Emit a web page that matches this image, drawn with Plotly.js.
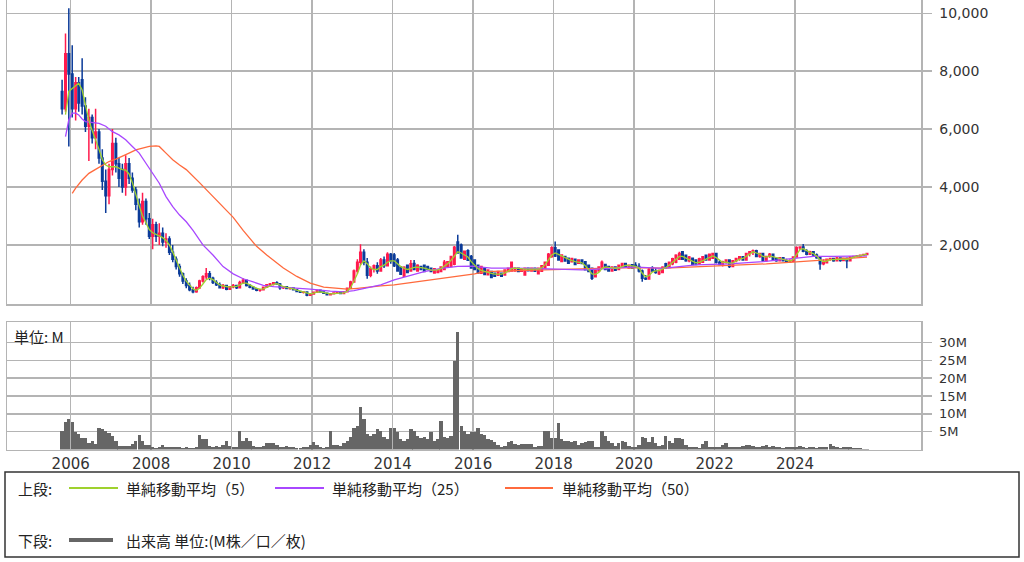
<!DOCTYPE html>
<html>
<head>
<meta charset="utf-8">
<script src="https://cdn.plot.ly/plotly-3.0.1.min.js"></script>
<style>html,body{margin:0;padding:0;background:#fff;}#chart{width:1024px;height:562px;}</style>
</head>
<body>
<div id="chart"></div>
<script>
// Monthly candles, Oct 2005 .. Oct 2025
const firstYear = 2005, firstMonth = 10;
const openP = [
  7300, 6700, 8600,
  7900, 6700, 7600, 7700, 6800, 6100, 6400, 5700, 5900, 5000, 4200, 3700,
  4600, 5500, 4800, 4600, 4000, 4800, 4300, 3900, 3400, 2800, 3500, 2900,
  2300, 2700, 2300, 2400, 2100, 2200, 1750, 1500, 1250, 1000, 750, 600,
  450, 380, 520, 750, 900, 1000, 850, 700, 620, 520, 600, 470,
  550, 600, 520, 700, 780, 600, 540, 480, 430, 450, 540, 620,
  650, 690, 650, 520, 550, 490, 510, 450, 390, 360, 370, 260,
  300, 360, 430, 370, 330, 280, 310, 340, 360, 320, 380, 500,
  720, 1100, 1400, 1750, 1400, 950, 1180, 1280, 1100, 1480, 1280, 1680,
  1650, 1480, 1240, 920, 1300, 1100, 1360, 1100, 1250, 1300, 1250, 1190,
  1030, 1050, 1080, 1150, 1250, 1250, 1330, 2100, 2000, 1500, 1800, 1600,
  1480, 1300, 1020, 1190, 970, 1080, 1020, 950, 1020, 960, 1080, 1100,
  1100, 1190, 1090, 960, 1190, 1100, 1190, 1000, 1090, 1200, 1300, 1600,
  1900, 1820, 1430, 1600, 1540, 1420, 1500, 1370, 1480, 1420, 1300, 1190,
  900, 1100, 1240, 1320, 1250, 1100, 1240, 1150, 1250, 1360, 1200, 1310,
  1300, 1250, 1100, 850, 820, 1200, 1100, 1000, 1050, 1350, 1220, 1350,
  1400, 1500, 1760, 1640, 1450, 1540, 1480, 1340, 1400, 1640, 1480, 1540,
  1700, 1400, 1320, 1420, 1480, 1250, 1450, 1530, 1590, 1480, 1700, 1760,
  1800, 1600, 1700, 1450, 1600, 1680, 1540, 1450, 1560, 1450, 1400, 1430,
  1580, 1900, 1930, 1780, 1680, 1760, 1650, 1560, 1350, 1380, 1500, 1530,
  1450, 1550, 1460, 1540, 1450, 1580, 1600, 1620, 1640, 1670
];
const highP = [
  7700, 9300, 10170,
  8900, 7800, 7800, 8450, 7100, 6700, 6500, 6700, 6000, 5300, 4600, 4800,
  6000, 5700, 5000, 4800, 5100, 5000, 4500, 4000, 3600, 3800, 3600, 3100,
  2900, 2800, 2750, 2600, 2400, 2300, 2000, 1600, 1350, 1050, 850, 700,
  550, 560, 800, 950, 1200, 1100, 900, 780, 700, 650, 620, 580,
  650, 620, 760, 850, 800, 650, 580, 520, 480, 560, 640, 680,
  720, 740, 680, 580, 570, 540, 530, 470, 420, 400, 380, 320,
  380, 460, 450, 390, 340, 330, 360, 380, 370, 400, 520, 760,
  1150, 1500, 2020, 1850, 1550, 1250, 1320, 1400, 1550, 1600, 1750, 1720,
  1720, 1550, 1260, 1260, 1320, 1480, 1480, 1330, 1270, 1320, 1260, 1200,
  1200, 1150, 1260, 1480, 1440, 1620, 1960, 2350, 2050, 1800, 1850, 1650,
  1500, 1320, 1260, 1200, 1140, 1100, 1040, 1100, 1040, 1150, 1200, 1430,
  1230, 1210, 1200, 1210, 1200, 1210, 1200, 1200, 1300, 1420, 1720, 1950,
  2120, 1850, 1680, 1620, 1560, 1560, 1520, 1500, 1500, 1440, 1320, 1200,
  1150, 1260, 1460, 1330, 1260, 1260, 1260, 1320, 1380, 1380, 1320, 1330,
  1400, 1370, 1150, 960, 1200, 1260, 1200, 1150, 1260, 1380, 1420, 1560,
  1680, 1760, 1780, 1660, 1620, 1560, 1500, 1560, 1620, 1660, 1700, 1720,
  1720, 1480, 1450, 1500, 1490, 1480, 1560, 1620, 1600, 1720, 1780, 1840,
  1830, 1720, 1710, 1620, 1720, 1700, 1560, 1580, 1580, 1520, 1500, 1600,
  1950, 1950, 2030, 1850, 1800, 1790, 1700, 1600, 1500, 1530, 1560, 1560,
  1580, 1570, 1560, 1560, 1600, 1620, 1650, 1660, 1690, 1720
];
const lowP = [
  6500, 6600, 5400,
  6400, 6300, 6600, 6500, 5900, 4900, 5500, 5300, 4800, 3900, 3100, 3400,
  4400, 4500, 4000, 3800, 3700, 4100, 3800, 3200, 2600, 2700, 2700, 2200,
  1850, 2100, 2000, 1950, 1900, 1650, 1400, 1150, 900, 650, 500, 400,
  330, 350, 480, 700, 820, 780, 650, 580, 500, 480, 430, 440,
  500, 480, 500, 650, 560, 500, 450, 400, 380, 430, 520, 580,
  600, 620, 450, 480, 470, 450, 430, 360, 340, 320, 230, 240,
  290, 340, 350, 320, 260, 250, 290, 320, 300, 310, 370, 480,
  700, 1000, 1300, 1300, 830, 880, 1050, 1000, 1080, 1200, 1250, 1350,
  1240, 1070, 960, 900, 1020, 1080, 1120, 1080, 1130, 1060, 1130, 1060,
  1000, 1020, 1060, 1130, 1230, 1230, 1300, 1700, 1520, 1480, 1450, 1180,
  1130, 1000, 1000, 960, 950, 850, 900, 940, 900, 950, 1070, 1090,
  1080, 1060, 1070, 940, 1100, 1090, 1080, 980, 1080, 1190, 1290, 1560,
  1580, 1450, 1400, 1420, 1350, 1400, 1300, 1350, 1340, 1120, 1060, 790,
  880, 1070, 1200, 1130, 1070, 1080, 1100, 1140, 1240, 1240, 1180, 1190,
  1200, 1050, 730, 790, 800, 1060, 1000, 960, 1020, 1180, 1200, 1300,
  1370, 1480, 1480, 1420, 1400, 1300, 1300, 1330, 1390, 1450, 1470, 1520,
  1360, 1300, 1250, 1350, 1200, 1230, 1400, 1450, 1450, 1460, 1600, 1650,
  1580, 1560, 1420, 1420, 1560, 1450, 1420, 1440, 1430, 1380, 1380, 1420,
  1560, 1820, 1750, 1640, 1660, 1620, 1520, 1140, 1300, 1360, 1450, 1420,
  1430, 1420, 1440, 1190, 1440, 1550, 1580, 1600, 1620, 1650
];
const closeP = [
  6700, 8600, 7900,
  6700, 7600, 6900, 6800, 6100, 6400, 5700, 5900, 5000, 4200, 3700, 4600,
  5500, 4800, 4300, 4000, 4800, 4300, 3900, 3400, 2800, 3500, 2900, 2300,
  2700, 2300, 2400, 2100, 2200, 1750, 1500, 1250, 1000, 750, 600, 450,
  380, 520, 750, 900, 1000, 850, 700, 620, 520, 600, 470, 550,
  600, 520, 700, 780, 600, 540, 480, 430, 450, 540, 620, 650,
  690, 650, 520, 550, 490, 510, 450, 390, 360, 370, 260, 300,
  360, 430, 370, 330, 280, 310, 340, 360, 320, 380, 500, 720,
  1100, 1400, 1750, 1400, 950, 1180, 1280, 1100, 1480, 1280, 1680, 1450,
  1280, 1100, 990, 1230, 1050, 1350, 1150, 1300, 1150, 1080, 1150, 1080,
  1180, 1130, 1240, 1400, 1420, 1600, 1920, 1720, 1550, 1780, 1470, 1200,
  1150, 1030, 1250, 980, 1130, 870, 920, 1080, 920, 1130, 1190, 1400,
  1190, 1080, 1180, 1190, 1110, 1190, 1090, 1190, 1280, 1400, 1680, 1900,
  1620, 1480, 1650, 1440, 1370, 1530, 1320, 1480, 1360, 1140, 1080, 850,
  1120, 1240, 1400, 1150, 1100, 1240, 1120, 1300, 1360, 1260, 1300, 1200,
  1250, 1100, 850, 820, 1150, 1100, 1050, 1120, 1230, 1220, 1400, 1520,
  1640, 1700, 1500, 1450, 1580, 1320, 1320, 1520, 1590, 1480, 1680, 1700,
  1400, 1320, 1420, 1480, 1250, 1450, 1530, 1590, 1480, 1700, 1760, 1800,
  1600, 1700, 1450, 1600, 1680, 1480, 1450, 1560, 1450, 1400, 1430, 1580,
  1900, 1930, 1780, 1680, 1760, 1650, 1560, 1350, 1380, 1500, 1530, 1450,
  1550, 1460, 1540, 1450, 1580, 1600, 1620, 1640, 1670, 1700
];
// 5-period moving average
const ma5 = [
  null, 6500, 7300,
  7400, 7500, 7580, 7350, 6800, 6300, 5950, 5650, 5300, 4950, 4760, 4700,
  4700, 4700, 4650, 4600, 4580, 4450, 4150, 3700, 3350, 3000, 2750, 2530,
  2420, 2360, 2300, 2250, 2150, 2000, 1750, 1480, 1200, 950, 750, 600,
  480, 430, 500, 650, 800, 850, 800, 700, 620, 580, 550, 540,
  560, 570, 620, 680, 680, 620, 560, 500, 470, 480, 530, 590,
  640, 660, 600, 560, 530, 510, 480, 440, 400, 370, 330, 310,
  330, 370, 380, 360, 330, 310, 320, 330, 330, 340, 400, 520,
  750, 1000, 1300, 1450, 1350, 1200, 1150, 1150, 1250, 1300, 1400, 1450,
  1450, 1350, 1250, 1200, 1150, 1180, 1220, 1230, 1220, 1200, 1160, 1130,
  1130, 1140, 1180, 1260, 1350, 1470, 1620, 1760, 1720, 1660, 1580, 1420,
  1300, 1180, 1120, 1080, 1050, 1020, 990, 980, 990, 1030, 1090, 1180,
  1200, 1190, 1170, 1160, 1160, 1160, 1150, 1160, 1210, 1310, 1480, 1650,
  1720, 1680, 1620, 1560, 1500, 1460, 1420, 1410, 1380, 1280, 1150, 1000,
  980, 1050, 1180, 1240, 1220, 1200, 1190, 1210, 1260, 1290, 1290, 1280,
  1260, 1200, 1020, 900, 940, 1060, 1100, 1110, 1160, 1220, 1300, 1400,
  1500, 1600, 1600, 1540, 1500, 1430, 1380, 1400, 1460, 1490, 1550, 1620,
  1560, 1460, 1400, 1400, 1370, 1380, 1450, 1510, 1530, 1600, 1690, 1760,
  1720, 1680, 1600, 1580, 1620, 1590, 1540, 1520, 1500, 1460, 1440, 1490,
  1680, 1840, 1870, 1790, 1740, 1700, 1620, 1480, 1420, 1440, 1490, 1490,
  1500, 1500, 1510, 1490, 1530, 1580, 1610, 1630, 1650, 1680
];
// 25-period moving average (sampled points)
const ma25Dates = ['2005-11-15','2005-12-15','2006-01-15','2006-02-15','2006-03-15','2006-04-15','2006-05-15','2006-07-15','2006-09-15','2006-11-15','2007-01-15','2007-03-15','2007-05-15','2007-07-15','2007-09-15','2007-11-15','2008-01-15','2008-03-15','2008-05-15','2008-07-15','2008-09-15','2008-11-15','2009-01-15','2009-04-15','2009-07-15','2009-10-15','2010-01-15','2010-04-15','2010-07-15','2010-10-15','2011-01-15','2011-06-15','2011-12-15','2012-06-15','2012-10-15','2013-01-15','2013-05-15','2013-09-15','2014-01-15','2014-06-15','2014-10-15','2015-03-15','2015-08-15','2015-12-15','2016-06-15','2017-06-15','2018-03-15','2018-09-15','2019-06-15','2019-12-15','2020-09-15','2021-07-15','2022-05-15','2023-03-15','2024-01-15','2024-06-15','2024-12-15','2025-10-15'];
const ma25Vals = [5740,6320,6550,6550,6490,6350,6260,6220,6200,6100,5910,5800,5630,5400,5170,4820,4470,4130,3670,3320,3030,2800,2500,2000,1650,1250,1000,830,720,600,560,530,470,400,380,420,510,620,790,950,1080,1190,1260,1270,1200,1190,1150,1140,1190,1240,1190,1310,1345,1425,1540,1600,1600,1620];
// 50-period moving average (sampled points)
const ma50Dates = ['2006-01-15','2006-02-15','2006-04-15','2006-06-15','2006-08-15','2006-10-15','2006-12-15','2007-02-15','2007-04-15','2007-06-15','2007-08-15','2007-10-15','2007-12-15','2008-02-15','2008-03-15','2008-05-15','2008-07-15','2008-09-15','2008-11-15','2009-03-15','2009-08-15','2010-01-15','2010-04-15','2010-08-15','2010-11-15','2011-04-15','2011-08-15','2011-12-15','2012-04-15','2012-08-15','2012-11-15','2013-02-15','2013-05-15','2013-09-15','2014-01-15','2014-10-15','2015-08-15','2016-01-15','2016-04-15','2017-04-15','2018-01-15','2018-12-15','2019-10-15','2020-10-15','2021-08-15','2022-05-15','2023-04-15','2024-02-15','2024-12-15','2025-10-15'];
const ma50Vals = [3780,3960,4240,4470,4610,4760,4880,4960,5050,5170,5280,5340,5400,5420,5400,5170,4940,4760,4600,4150,3550,2950,2500,1950,1650,1200,910,680,540,490,470,500,540,585,620,760,910,1000,1080,1115,1140,1195,1215,1200,1250,1290,1345,1425,1505,1575];
// Monthly volume, millions
const volume = [
  5.3, 7.7, 8.6,
  7.7, 4.9, 4.4, 3.3, 3.3, 1.8, 2.5, 1.6, 6.1, 5.8, 5.3, 4.6,
  3.7, 2.5, 1.1, 1.1, 1.1, 1.1, 1.6, 2.5, 4.2, 2.5, 1.4, 1.4,
  0.8, 0.5, 0.7, 1.4, 0.8, 0.7, 0.7, 0.7, 0.7, 0.5, 0.8, 0.5,
  0.4, 0.7, 4.1, 3.0, 3.0, 1.1, 0.8, 1.1, 0.8, 1.4, 2.3, 1.1,
  0.8, 0.8, 5.1, 2.3, 3.3, 2.3, 1.1, 0.7, 0.8, 1.1, 1.8, 1.8,
  1.8, 1.4, 0.8, 0.8, 1.1, 0.8, 0.8, 0.5, 0.5, 0.8, 0.8, 1.4,
  2.0, 1.4, 0.7, 0.4, 0.7, 5.1, 1.4, 1.4, 1.1, 1.8, 2.3, 3.5,
  6.1, 6.5, 11.9, 8.6, 4.4, 3.9, 4.4, 5.8, 5.3, 3.5, 3.0, 6.1,
  6.1, 4.9, 3.0, 2.5, 3.0, 5.8, 5.3, 3.9, 3.3, 3.5, 3.0, 4.9,
  2.3, 3.0, 7.9, 3.5, 3.3, 3.7, 24.9, 33.0, 6.5, 5.3, 4.4, 4.9,
  4.9, 6.1, 4.4, 4.2, 3.0, 2.7, 2.1, 1.4, 0.8, 1.1, 2.1, 2.3,
  1.6, 1.4, 1.6, 1.6, 1.6, 1.6, 0.8, 1.0, 1.1, 5.1, 5.1, 3.2,
  3.3, 7.4, 3.0, 2.5, 2.3, 2.1, 2.3, 1.4, 1.8, 2.1, 2.3, 2.3,
  0.7, 0.8, 5.1, 3.7, 2.5, 1.8, 1.1, 1.8, 2.3, 2.0, 1.1, 0.7,
  0.8, 1.4, 3.5, 3.3, 2.1, 3.5, 1.8, 1.1, 1.4, 3.7, 2.5, 1.8,
  3.3, 3.3, 3.0, 1.4, 0.8, 0.8, 0.7, 0.5, 1.6, 2.3, 0.8, 0.8,
  0.7, 0.8, 1.4, 1.8, 0.7, 0.7, 0.8, 0.7, 1.1, 1.4, 1.4, 1.0,
  0.8, 0.7, 1.1, 1.4, 0.7, 1.1, 0.7, 0.7, 0.5, 0.8, 0.7, 0.7,
  0.8, 1.1, 0.7, 0.5, 0.7, 0.8, 0.5, 0.8, 0.7, 0.8, 1.6, 1.1,
  0.7, 0.5, 0.8, 0.8, 0.7, 0.5, 0.3, 0.3, 0.2, 0.2
];
const priceTicks = [2000, 4000, 6000, 8000, 10000];
const volTicks = [5, 10, 15, 20, 25, 30];
const volTickText = ['5M', '10M', '15M', '20M', '25M', '30M'];
const yearTicks = ['2006','2008','2010','2012','2014','2016','2018','2020','2022','2024'];
const legendTop = ['単純移動平均（5）', '単純移動平均（25）', '単純移動平均（50）'];
const legendBottom = '出来高 単位:(M株／口／枚)';

// month dates (mid-month)
const dates = closeP.map((_, i) => {
  const m = firstMonth - 1 + i;
  const y = firstYear + Math.floor(m / 12);
  const mm = (m % 12) + 1;
  return y + '-' + String(mm).padStart(2, '0') + '-15';
});
const tickDates = yearTicks.map(y => y + '-01-01');

const UP = '#ff1a4d', DOWN = '#0b3b99';
const C5 = '#9fd12e', C25 = '#a847ff', C50 = '#ff6a3d';
const GRID = '#b4b4b4';
const FONT = '"Noto Sans CJK JP", "Noto Sans", sans-serif';
const TICKFONT = '"DejaVu Sans", sans-serif';
const xRange = ['2004-06-02', '2027-02-17'];

const traces = [
  {type: 'candlestick', x: dates, open: openP, high: highP, low: lowP, close: closeP,
   xaxis: 'x', yaxis: 'y', whiskerwidth: 0,
   increasing: {line: {color: UP, width: 1.5}, fillcolor: UP},
   decreasing: {line: {color: DOWN, width: 1.5}, fillcolor: DOWN},
   hoverinfo: 'skip'},
  {type: 'scatter', mode: 'lines', x: ma50Dates, y: ma50Vals, xaxis: 'x', yaxis: 'y',
   line: {color: C50, width: 1.3}, hoverinfo: 'skip'},
  {type: 'scatter', mode: 'lines', x: ma25Dates, y: ma25Vals, xaxis: 'x', yaxis: 'y',
   line: {color: C25, width: 1.3}, hoverinfo: 'skip'},
  {type: 'scatter', mode: 'lines', x: dates, y: ma5, xaxis: 'x', yaxis: 'y',
   line: {color: C5, width: 1.3}, hoverinfo: 'skip'},
  {type: 'bar', x: dates, y: volume, xaxis: 'x2', yaxis: 'y2',
   marker: {color: '#666666', line: {width: 0}}, width: 30.4 * 86400000, hoverinfo: 'skip'}
];

const W = 1024, H = 562;
const px = v => v / W, py = v => 1 - v / H;

const shapes = [
  {type: 'rect', xref: 'paper', yref: 'paper', x0: px(5), x1: px(1019), y0: py(557), y1: py(472),
   line: {color: '#333', width: 1.5}, fillcolor: 'rgba(0,0,0,0)'},
  {type: 'line', xref: 'paper', yref: 'paper', x0: px(69), x1: px(118), y0: py(488), y1: py(488), line: {color: C5, width: 2}},
  {type: 'line', xref: 'paper', yref: 'paper', x0: px(275), x1: px(324), y0: py(488), y1: py(488), line: {color: C25, width: 2}},
  {type: 'line', xref: 'paper', yref: 'paper', x0: px(505), x1: px(553), y0: py(488), y1: py(488), line: {color: C50, width: 2}},
  {type: 'line', xref: 'paper', yref: 'paper', x0: px(69), x1: px(113), y0: py(540), y1: py(540), line: {color: '#666', width: 4}}
];
const ann = (x, y, text, size) => ({xref: 'paper', yref: 'paper', x: px(x), y: py(y), text: text,
  showarrow: false, xanchor: 'left', yanchor: 'middle', font: {family: FONT, size: size || 15, color: '#222'}});
const annotations = [
  ann(16, 488, '上段:'),
  ann(124, 488, legendTop[0]),
  ann(330, 488, legendTop[1]),
  ann(560, 488, legendTop[2]),
  ann(16, 540, '下段:'),
  ann(124, 540, legendBottom),
  ann(12, 336, '単位: M')
];

const layout = {
  width: W, height: H, margin: {l: 0, r: 0, t: 0, b: 0},
  paper_bgcolor: '#fff', plot_bgcolor: '#fff', showlegend: false,
  font: {family: FONT, size: 14, color: '#333'},
  xaxis: {domain: [px(7), px(921)], type: 'date', range: xRange, anchor: 'y',
    tickvals: tickDates, showticklabels: false, ticks: '',
    showgrid: true, gridcolor: GRID, gridwidth: 1.5, zeroline: false,
    showline: true, linecolor: GRID, linewidth: 1.5, mirror: true,
    rangeslider: {visible: false}},
  yaxis: {domain: [py(304.3), 1], range: [-52, 10459], side: 'right', anchor: 'x',
    tickvals: priceTicks, tickformat: ',d', ticks: 'outside', ticklen: 9, tickwidth: 1.5, tickcolor: GRID,
    ticklabelstandoff: 5,
    showgrid: true, gridcolor: GRID, gridwidth: 1.5, zeroline: false,
    showline: true, linecolor: GRID, linewidth: 1.5, mirror: true,
    tickfont: {family: TICKFONT, size: 14, color: '#333'}},
  xaxis2: {domain: [px(7), px(921)], type: 'date', range: xRange, anchor: 'y2',
    tickvals: tickDates, tickformat: '%Y', ticks: '',
    showgrid: true, gridcolor: GRID, gridwidth: 1.5, zeroline: false,
    showline: true, linecolor: GRID, linewidth: 1.5, mirror: true,
    tickfont: {family: TICKFONT, size: 15, color: '#333'}},
  yaxis2: {domain: [py(449.5), py(322)], range: [0, 35.75], side: 'right', anchor: 'x2',
    tickvals: volTicks, ticktext: volTickText, ticks: 'outside', ticklen: 9, tickwidth: 1.5, tickcolor: GRID,
    ticklabelstandoff: 5,
    showgrid: true, gridcolor: GRID, gridwidth: 1.5, zeroline: false,
    showline: true, linecolor: GRID, linewidth: 1.5, mirror: true,
    tickfont: {family: TICKFONT, size: 13, color: '#333'}},
  bargap: 0,
  shapes: shapes,
  annotations: annotations
};

Plotly.newPlot('chart', traces, layout, {staticPlot: true, displayModeBar: false});
</script>
</body>
</html>
